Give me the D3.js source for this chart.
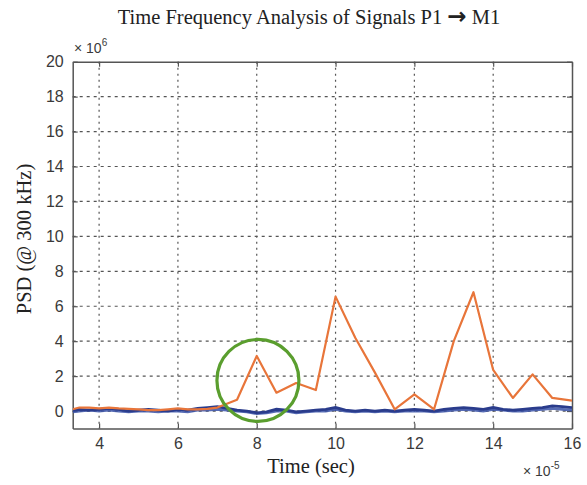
<!DOCTYPE html>
<html>
<head>
<meta charset="utf-8">
<script src="https://cdn.jsdelivr.net/npm/d3@7"></script>
<style>
  html, body { margin: 0; padding: 0; background: #fff; }
  svg { display: block; }
</style>
</head>
<body>
<svg id="chart" width="587" height="485"></svg>
<script>
// ---- data (time in units of 1e-5 s, PSD in units of 1e6) ----
const xTicks = [4, 6, 8, 10, 12, 14, 16];
const yTicks = [0, 2, 4, 6, 8, 10, 12, 14, 16, 18, 20];

const orangeTime = [3.33, 3.5, 3.75, 4, 4.25, 4.5, 4.75, 5, 5.25, 5.5, 5.75, 6, 6.25, 6.5, 6.75, 7,
  7.5, 8, 8.5, 9, 9.5, 10, 10.5, 11, 11.5, 12, 12.5, 13, 13.5, 14, 14.5, 15, 15.5, 16];
const orangePSD = [0.1, 0.2, 0.2, 0.15, 0.2, 0.15, 0.12, 0.1, 0.05, 0.05, 0.1, 0.15, 0.1, 0.1, 0.12, 0.2,
  0.65, 3.15, 1.05, 1.6, 1.2, 6.55, 4.2, 2.2, 0.1, 0.95, 0.1, 4.0, 6.8, 2.35, 0.75, 2.1, 0.75, 0.6];

const blueTime = [3.33, 3.5, 3.75, 4, 4.25, 4.5, 4.75, 5, 5.25, 5.5, 5.75, 6, 6.25, 6.5, 6.75, 7,
  7.25, 7.5, 7.75, 8, 8.25, 8.5, 8.75, 9, 9.25, 9.5, 9.75, 10, 10.25, 10.5, 10.75, 11, 11.25, 11.5,
  11.75, 12, 12.25, 12.5, 12.75, 13, 13.25, 13.5, 13.75, 14, 14.25, 14.5, 14.75, 15, 15.25, 15.5, 15.75, 16];
const bluePSD1 = [0.05, 0.1, 0.05, 0.1, 0.15, 0.1, 0.0, 0.05, 0.1, 0.05, 0.0, 0.1, 0.05, 0.15, 0.2, 0.25,
  0.15, 0.05, 0.0, -0.1, -0.05, 0.1, 0.05, -0.05, 0.0, 0.05, 0.1, 0.2, 0.05, 0.0, 0.05, 0.0, 0.05, 0.0,
  0.05, 0.1, 0.05, 0.0, 0.1, 0.15, 0.2, 0.15, 0.1, 0.2, 0.1, 0.05, 0.1, 0.15, 0.2, 0.3, 0.25, 0.2];
const bluePSD2 = [-0.05, 0.0, 0.05, 0.0, 0.05, 0.0, -0.05, 0.0, 0.0, -0.05, 0.0, 0.0, -0.05, 0.05, 0.05, 0.1,
  0.05, 0.0, -0.05, -0.15, -0.1, 0.0, 0.0, -0.1, -0.05, 0.0, 0.0, 0.1, 0.0, -0.05, 0.0, -0.05, 0.0, -0.05,
  0.0, 0.0, 0.0, -0.05, 0.0, 0.05, 0.1, 0.05, 0.0, 0.1, 0.05, 0.0, 0.0, 0.05, 0.1, 0.15, 0.1, 0.05];

const circleCenter = [8.03, 1.75];   // annotation circle (data coords)

// ---- layout ----
const svg = d3.select("#chart");
const m = { left: 72.7, right: 572, top: 61.7, bottom: 428.5 };
const x = d3.scaleLinear().domain([3.33, 16]).range([m.left, m.right]);
const y = d3.scaleLinear().domain([-1, 20]).range([m.bottom, m.top]);

const gridColor = "#555";
const axisColor = "#555";
const textColor = "#3a3a3a";
const serif = "'Liberation Serif', 'Times New Roman', serif";
const sans = "'Liberation Sans', Arial, sans-serif";

// grid
const grid = svg.append("g");
grid.selectAll("line.h").data(yTicks.filter(d => d !== 20)).enter().append("line")
  .attr("x1", m.left).attr("x2", m.right)
  .attr("y1", d => y(d)).attr("y2", d => y(d))
  .attr("stroke", gridColor).attr("stroke-width", 1.2).attr("stroke-dasharray", "3,4");
grid.selectAll("line.v").data(xTicks.filter(d => d !== 16)).enter().append("line")
  .attr("x1", d => x(d)).attr("x2", d => x(d))
  .attr("y1", m.top).attr("y2", m.bottom)
  .attr("stroke", gridColor).attr("stroke-width", 1.2).attr("stroke-dasharray", "2,4");

// axes with inward ticks
const xAxisB = d3.axisBottom(x).tickValues(xTicks).tickSizeInner(-5).tickSizeOuter(0).tickPadding(9);
const xAxisT = d3.axisTop(x).tickValues(xTicks).tickSizeInner(-5).tickSizeOuter(0).tickFormat("");
const yAxisL = d3.axisLeft(y).tickValues(yTicks).tickSizeInner(-5).tickSizeOuter(0).tickPadding(9);
const yAxisR = d3.axisRight(y).tickValues(yTicks).tickSizeInner(-5).tickSizeOuter(0).tickFormat("");

function style(g) {
  g.select(".domain").attr("stroke", axisColor).attr("stroke-width", 1.5);
  g.selectAll(".tick line").attr("stroke", axisColor).attr("stroke-width", 1.2);
  g.selectAll(".tick text").attr("fill", textColor)
    .style("font-family", sans).style("font-size", "16px");
}
svg.append("g").attr("transform", `translate(0,${m.bottom})`).call(xAxisB).call(style);
svg.append("g").attr("transform", `translate(0,${m.top})`).call(xAxisT).call(style);
svg.append("g").attr("transform", `translate(${m.left},0)`).call(yAxisL).call(style);
svg.append("g").attr("transform", `translate(${m.right},0)`).call(yAxisR).call(style);

// lines
svg.append("clipPath").attr("id", "clip").append("rect")
  .attr("x", m.left).attr("y", m.top).attr("width", m.right - m.left).attr("height", m.bottom - m.top);
const plot = svg.append("g").attr("clip-path", "url(#clip)");

const lineB = d3.line().x((d, i) => x(blueTime[i])).y(d => y(d));
plot.append("path").datum(bluePSD2).attr("d", lineB)
  .attr("fill", "none").attr("stroke", "#3a52a8").attr("stroke-width", 2.8).attr("opacity", 0.85);
plot.append("path").datum(bluePSD1).attr("d", lineB)
  .attr("fill", "none").attr("stroke", "#2a3c8c").attr("stroke-width", 2.8);

const lineO = d3.line().x((d, i) => x(orangeTime[i])).y(d => y(d));
plot.append("path").datum(orangePSD).attr("d", lineO)
  .attr("fill", "none").attr("stroke", "#e8753a").attr("stroke-width", 2.2).attr("stroke-linejoin", "round");

// annotation circle
svg.append("circle")
  .attr("cx", x(circleCenter[0])).attr("cy", y(circleCenter[1])).attr("r", 41)
  .attr("fill", "none").attr("stroke", "#5a9e2e").attr("stroke-width", 3.2);

// texts
const title = svg.append("text").attr("x", 309).attr("y", 24).attr("text-anchor", "middle")
  .attr("fill", "#222").style("font-family", serif).style("font-size", "20.5px");
title.append("tspan").text("Time Frequency Analysis of Signals P1 ");
title.append("tspan").style("font-family", "'DejaVu Sans', sans-serif").style("font-weight", "bold")
  .style("font-size", "23px").text("\u2192");
title.append("tspan").text(" M1");

svg.append("text").attr("transform", "translate(31,239) rotate(-90)").attr("text-anchor", "middle")
  .attr("fill", "#222").style("font-family", serif)
  .style("font-size", "20.5px").text("PSD (@ 300 kHz)");

svg.append("text").attr("x", 311).attr("y", 473).attr("text-anchor", "middle")
  .attr("fill", "#222").style("font-family", serif)
  .style("font-size", "20.5px").text("Time (sec)");

const expT = svg.append("text").attr("x", 74).attr("y", 53).attr("fill", textColor)
  .style("font-family", sans).style("font-size", "14px");
expT.append("tspan").text("\u00d7 10");
expT.append("tspan").attr("dy", -7).style("font-size", "10px").text("6");

const expB = svg.append("text").attr("x", 523).attr("y", 476).attr("fill", textColor)
  .style("font-family", sans).style("font-size", "14px");
expB.append("tspan").text("\u00d7 10");
expB.append("tspan").attr("dy", -7).style("font-size", "10px").text("-5");
</script>
</body>
</html>
